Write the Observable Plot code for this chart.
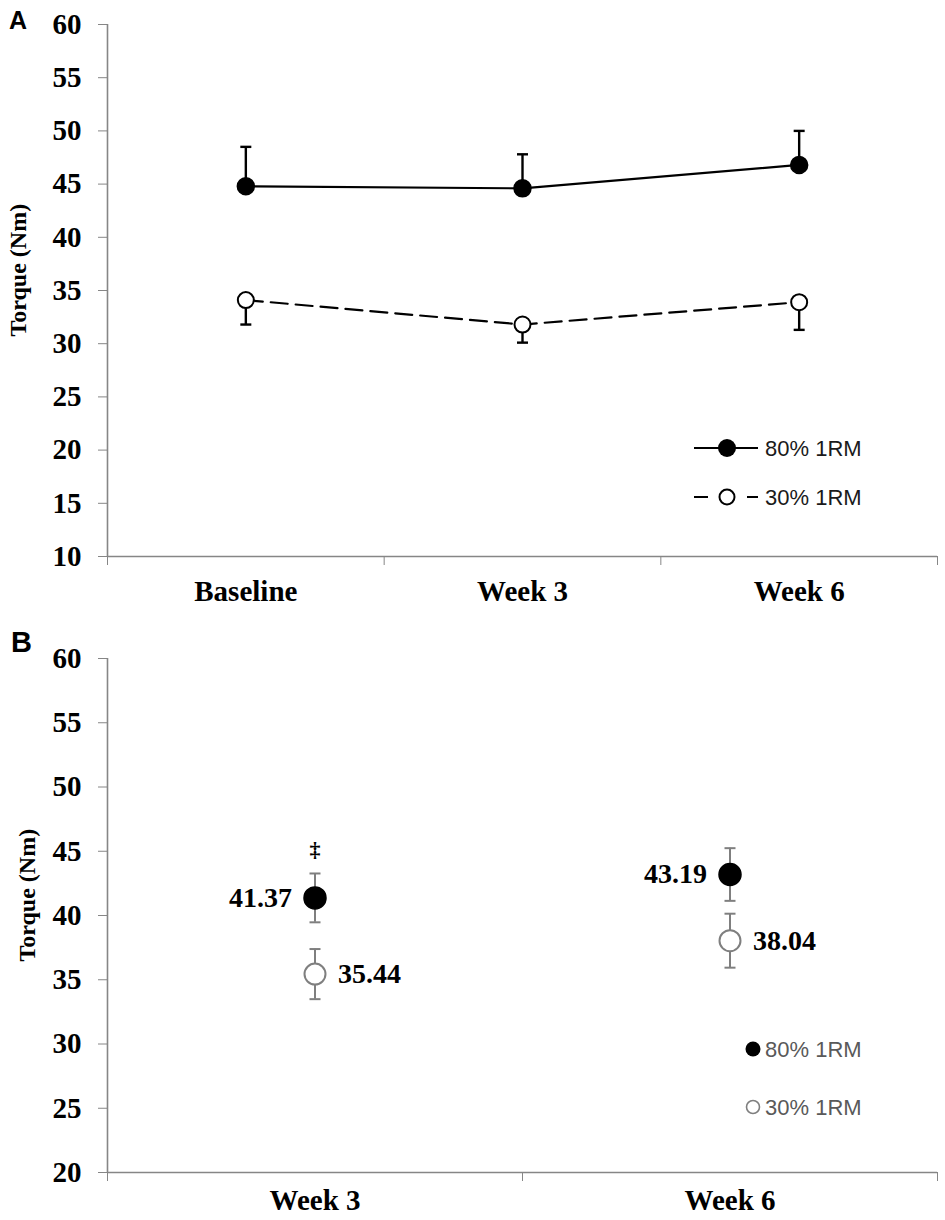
<!DOCTYPE html>
<html>
<head>
<meta charset="utf-8">
<script src="https://cdn.jsdelivr.net/npm/d3@7"></script>
<script src="https://cdn.jsdelivr.net/npm/@observablehq/plot@0.6"></script>
<style>
  body { margin: 0; background: #fff; }
  #wrap { position: relative; width: 945px; height: 1220px; overflow: hidden; }
  .panel { position: absolute; left: 0; }
  #overlay { position: absolute; left: 0; top: 0; pointer-events: none; }
</style>
</head>
<body>
<div id="wrap">
  <div id="panelA" class="panel" style="top:0px"></div>
  <div id="panelB" class="panel" style="top:620px"></div>
  <svg id="overlay" width="945" height="1220"></svg>
</div>
<script>
// panel A : torque over time, mean + SD
const weeksA = ["Baseline", "Week 3", "Week 6"]
const heavyA = [44.8, 44.6, 46.8]      // 80% 1RM
const heavyAErr = [3.7, 3.2, 3.2]
const lightA = [34.1, 31.8, 33.9]      // 30% 1RM
const lightAErr = [2.3, 1.7, 2.6]

// panel B : adjusted means
const weeksB = ["Week 3", "Week 6"]
const heavyB = [41.37, 43.19]
const heavyBErr = [1.9, 2.05]
const lightB = [35.44, 38.04]
const lightBErr = [1.95, 2.1]
const markB = ["‡", ""]

const ticksA = d3.range(10, 61, 5)
const ticksB = d3.range(20, 61, 5)

const axisGray = "#868686"
const errGray = "#7f7f7f"
const serif = "'Liberation Serif', 'Times New Roman', serif"
const sans = "'Liberation Sans', Arial, sans-serif"

// horizontal cap for the error bars, half-length = r
const cap = {
  draw(ctx, size) {
    const r = Math.sqrt(size / Math.PI)
    ctx.moveTo(-r, 0)
    ctx.lineTo(r, 0)
  }
}

const rowsA = weeksA.map((week, i) => ({
  week, x: i + 0.5,
  heavy: heavyA[i], heavyTop: heavyA[i] + heavyAErr[i],
  light: lightA[i], lightBot: lightA[i] - lightAErr[i]
}))

const rowsB = weeksB.map((week, i) => ({
  week, x: i + 0.5, mark: markB[i],
  heavy: heavyB[i], heavyLo: heavyB[i] - heavyBErr[i], heavyHi: heavyB[i] + heavyBErr[i],
  light: lightB[i], lightLo: lightB[i] - lightBErr[i], lightHi: lightB[i] + lightBErr[i]
}))

function frameMarks(cats, ticks, ymin, labelDx, catPad) {
  return [
    Plot.axisY({
      ticks: ticks, tickSize: 9, tickPadding: 17, tickFormat: d => d,
      stroke: axisGray, fill: "black", fontSize: 29, fontWeight: "bold", label: null
    }),
    Plot.axisX({
      ticks: d3.range(0, cats.length + 1), tickSize: 9, tickFormat: () => "",
      stroke: axisGray, label: null
    }),
    Plot.axisX({
      ticks: cats.map((c, i) => i + 0.5), tickSize: 0, tickPadding: catPad,
      tickFormat: d => cats[Math.floor(d)],
      fill: "black", fontSize: 29, fontWeight: "bold", label: null
    }),
    Plot.ruleX([0], {stroke: axisGray, strokeWidth: 1.6}),
    Plot.ruleY([ymin], {stroke: axisGray, strokeWidth: 1.6}),
    Plot.text(["Torque (Nm)"], {
      frameAnchor: "left", rotate: -90, dx: labelDx, dy: 46,
      fontSize: 24, fontWeight: "bold", fill: "black"
    })
  ]
}

let chartA = Plot.plot({
  width: 945,
  height: 620,
  marginLeft: 107,
  marginRight: 8,
  marginTop: 24,
  marginBottom: 64,
  x: {type: "linear", domain: [0, weeksA.length]},
  y: {domain: [10, 60]},
  style: {fontFamily: serif, background: "white", color: "black"},
  marks: [
    ...frameMarks(weeksA, ticksA, 10, -89, 24),
    // error bars (80% up, 30% down)
    Plot.ruleX(rowsA, {x: "x", y1: "heavy", y2: "heavyTop", stroke: "black", strokeWidth: 2.4}),
    Plot.dot(rowsA, {x: "x", y: "heavyTop", symbol: cap, r: 5.5, fill: "none", stroke: "black", strokeWidth: 2.4}),
    Plot.ruleX(rowsA, {x: "x", y1: "light", y2: "lightBot", stroke: "black", strokeWidth: 2.4}),
    Plot.dot(rowsA, {x: "x", y: "lightBot", symbol: cap, r: 5.5, fill: "none", stroke: "black", strokeWidth: 2.4}),
    // lines
    Plot.line(rowsA, {x: "x", y: "heavy", stroke: "black", strokeWidth: 2.2}),
    Plot.line(rowsA, {x: "x", y: "light", stroke: "black", strokeWidth: 2.2, strokeDasharray: "17,8"}),
    // markers
    Plot.dot(rowsA, {x: "x", y: "heavy", r: 8.5, fill: "black", stroke: "black"}),
    Plot.dot(rowsA, {x: "x", y: "light", r: 8, fill: "white", stroke: "black", strokeWidth: 2})
  ]
})

let chartB = Plot.plot({
  width: 945,
  height: 600,
  marginLeft: 107,
  marginRight: 8,
  marginTop: 38,
  marginBottom: 48,
  x: {type: "linear", domain: [0, weeksB.length]},
  y: {domain: [20, 60]},
  style: {fontFamily: serif, background: "white", color: "black"},
  marks: [
    ...frameMarks(weeksB, ticksB, 20, -80, 17),
    Plot.ruleX(rowsB, {x: "x", y1: "heavyLo", y2: "heavyHi", stroke: errGray, strokeWidth: 2}),
    Plot.dot(rowsB, {x: "x", y: "heavyLo", symbol: cap, r: 5.5, fill: "none", stroke: errGray, strokeWidth: 2}),
    Plot.dot(rowsB, {x: "x", y: "heavyHi", symbol: cap, r: 5.5, fill: "none", stroke: errGray, strokeWidth: 2}),
    Plot.ruleX(rowsB, {x: "x", y1: "lightLo", y2: "lightHi", stroke: errGray, strokeWidth: 2}),
    Plot.dot(rowsB, {x: "x", y: "lightLo", symbol: cap, r: 5.5, fill: "none", stroke: errGray, strokeWidth: 2}),
    Plot.dot(rowsB, {x: "x", y: "lightHi", symbol: cap, r: 5.5, fill: "none", stroke: errGray, strokeWidth: 2}),
    Plot.dot(rowsB, {x: "x", y: "heavy", r: 11, fill: "black", stroke: "black"}),
    Plot.dot(rowsB, {x: "x", y: "light", r: 10.5, fill: "white", stroke: errGray, strokeWidth: 2}),
    // value labels
    Plot.text(rowsB, {x: "x", y: "heavy", text: d => d3.format(".2f")(d.heavy), textAnchor: "end", dx: -23, fontSize: 28, fontWeight: "bold", fill: "black"}),
    Plot.text(rowsB, {x: "x", y: "light", text: d => d3.format(".2f")(d.light), textAnchor: "start", dx: 23, fontSize: 28, fontWeight: "bold", fill: "black"}),
    Plot.text(rowsB, {x: "x", y: "heavyHi", text: "mark", dy: -24, fontSize: 22, fontWeight: "bold", fill: "black"})
  ]
})

d3.select('#panelA').append(() => chartA)
d3.select('#panelB').append(() => chartB)

// panel letters and legends
const ov = d3.select('#overlay')
ov.append('text').attr('x', 9).attr('y', 29).text('A')
  .attr('font-family', sans).attr('font-weight', 'bold').attr('font-size', 25)
ov.append('text').attr('x', 11).attr('y', 652).text('B')
  .attr('font-family', sans).attr('font-weight', 'bold').attr('font-size', 29)

const legendA = ov.append('g')
legendA.append('line').attr('x1', 694).attr('x2', 758).attr('y1', 448).attr('y2', 448)
  .attr('stroke', 'black').attr('stroke-width', 2)
legendA.append('circle').attr('cx', 727).attr('cy', 448).attr('r', 9).attr('fill', 'black')
legendA.append('line').attr('x1', 694).attr('x2', 758).attr('y1', 497).attr('y2', 497)
  .attr('stroke', 'black').attr('stroke-width', 2).attr('stroke-dasharray', '14,39,11')
legendA.append('circle').attr('cx', 727).attr('cy', 497).attr('r', 7.5)
  .attr('fill', 'white').attr('stroke', 'black').attr('stroke-width', 2)
legendA.selectAll('text.lab').data(["80% 1RM", "30% 1RM"]).join('text')
  .attr('x', 765).attr('y', (d, i) => 448 + i * 49).attr('dy', '0.35em')
  .attr('font-family', sans).attr('font-size', 22).attr('fill', '#1a1a1a').text(d => d)

const legendB = ov.append('g')
legendB.append('circle').attr('cx', 753).attr('cy', 1049).attr('r', 7.5).attr('fill', 'black')
legendB.append('circle').attr('cx', 753).attr('cy', 1107).attr('r', 6.5)
  .attr('fill', 'white').attr('stroke', errGray).attr('stroke-width', 1.6)
legendB.selectAll('text.lab').data(["80% 1RM", "30% 1RM"]).join('text')
  .attr('x', 765).attr('y', (d, i) => 1049 + i * 58).attr('dy', '0.35em')
  .attr('font-family', sans).attr('font-size', 22).attr('fill', '#595959').text(d => d)
</script>
</body>
</html>
